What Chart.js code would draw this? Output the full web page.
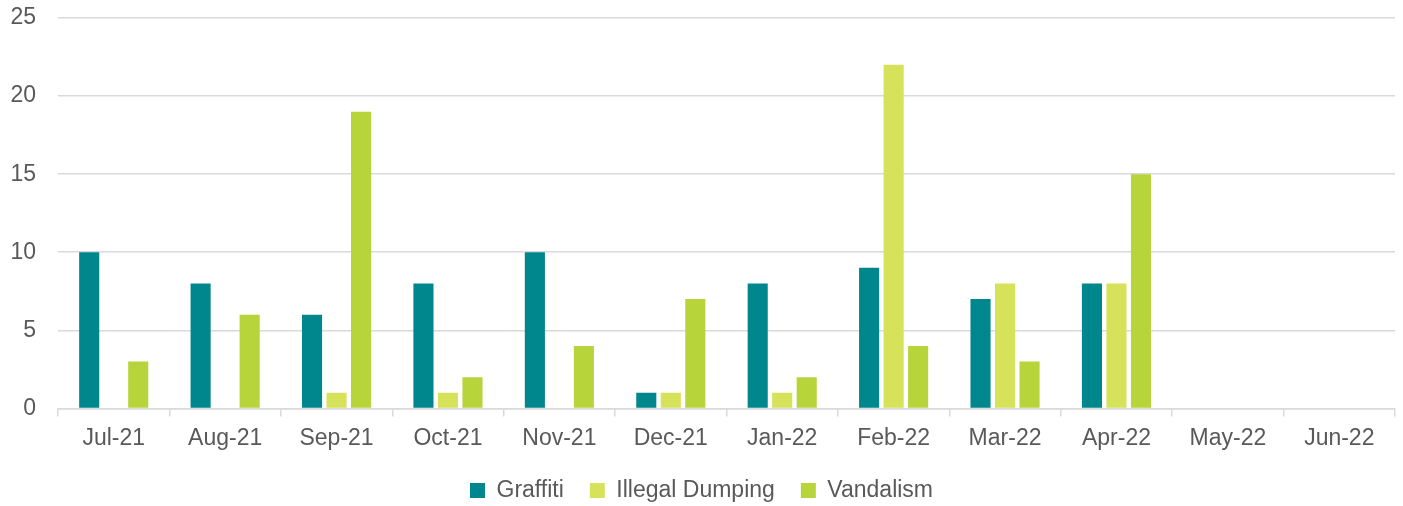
<!DOCTYPE html>
<html>
<head>
<meta charset="utf-8">
<script src="https://cdn.jsdelivr.net/npm/chart.js@4/dist/chart.umd.min.js"></script>
<style>
  html, body { margin: 0; padding: 0; background: #ffffff; }
  #wrap { width: 1403px; height: 506px; position: relative; }
</style>
</head>
<body>
<div id="wrap"><canvas id="grafico"></canvas></div>
<script>
const meses = ["Jul-21", "Aug-21", "Sep-21", "Oct-21", "Nov-21", "Dec-21", "Jan-22", "Feb-22", "Mar-22", "Apr-22", "May-22", "Jun-22"];
const graffiti = [10, 8, 6, 8, 10, 1, 8, 9, 7, 8, null, null];
const illegalDumping = [0, 0, 1, 1, 0, 1, 1, 22, 8, 8, null, null];
const vandalism = [3, 6, 19, 2, 4, 7, 2, 4, 3, 15, null, null];
const ejeY = [0, 5, 10, 15, 20, 25];

const gris = "#595959";
const fuente = { family: "'Liberation Sans', Arial, sans-serif", size: 23 };

function serie(label, data, color) {
    return {
        label: label,
        data: data,
        backgroundColor: color,
        borderWidth: 0,
        barPercentage: 0.82,
        categoryPercentage: 0.66
    };
}

const ctx = document.getElementById("grafico").getContext("2d");
new Chart(ctx, {
    type: "bar",
    data: {
        labels: meses,
        datasets: [
            serie("Graffiti", graffiti, "#00878d"),
            serie("Illegal Dumping", illegalDumping, "#d5e25a"),
            serie("Vandalism", vandalism, "#b7d43a")
        ]
    },
    options: {
        responsive: true,
        maintainAspectRatio: false,
        animation: false,
        layout: { padding: { top: 0, right: 8, left: 8, bottom: -6 } },
        plugins: {
            tooltip: { enabled: false },
            legend: {
                position: "bottom",
                labels: {
                    color: gris,
                    font: fuente,
                    boxWidth: 15,
                    boxHeight: 15,
                    padding: 26
                }
            }
        },
        scales: {
            x: {
                grid: {
                    display: true,
                    drawOnChartArea: false,
                    drawTicks: true,
                    tickLength: 8,
                    color: "#d9d9d9",
                    lineWidth: 1.5,
                    offset: true
                },
                border: { color: "#d9d9d9", width: 1.5 },
                ticks: { color: gris, font: fuente, padding: 8, maxRotation: 0 },
                afterFit: axis => { axis.height = axis.height - 7; }
            },
            y: {
                min: 0,
                max: 25,
                afterBuildTicks: axis => { axis.ticks = ejeY.map(v => ({ value: v })); },
                afterFit: axis => { axis.width = 50; axis.paddingTop = 18; },
                grid: { color: "#d9d9d9", lineWidth: 1.5, drawTicks: false },
                border: { display: false },
                ticks: { color: gris, font: fuente, padding: 22 }
            }
        }
    }
});
</script>
</body>
</html>
